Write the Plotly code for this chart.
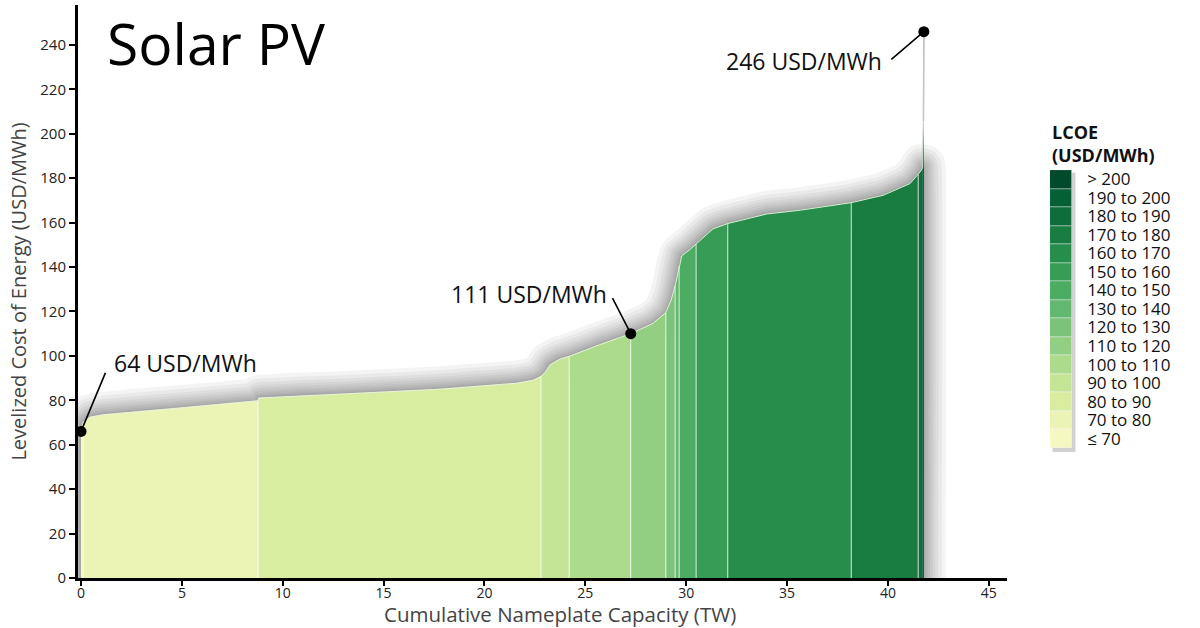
import plotly.graph_objects as go

# ---- data ----
cap_tw = [0, 0.05, 0.12, 0.45, 1.1, 4.4, 8.6, 8.78, 8.8, 12.8, 17.8, 21.6, 22.4, 22.8,
          23.0, 23.25, 23.75, 24.2, 25.7, 27.25, 28.35, 28.99, 29.25, 29.45, 29.6, 29.65,
          29.78, 30.2, 30.49, 31.33, 32.06, 34.0, 35.65, 38.18, 39.76, 41.1, 41.5, 41.65,
          41.72, 41.74, 41.76, 41.78]
lcoe = [66, 68.5, 70.2, 72.4, 73.5, 76.1, 79.4, 79.8, 81, 82.7, 85, 87.7, 89, 90.8,
        92.5, 96, 98.6, 99.8, 105, 110, 114.6, 119.5, 125, 131.5, 138, 140.5,
        145, 148, 150.4, 157.2, 159.6, 163.9, 165.6, 169, 172.3, 177.6, 181.8, 183.5,
        185, 195, 206, 246]

band_labels = ["≤ 70", "70 to 80", "80 to 90", "90 to 100", "100 to 110", "110 to 120",
               "120 to 130", "130 to 140", "140 to 150", "150 to 160", "160 to 170",
               "170 to 180", "180 to 190", "190 to 200", "> 200"]
band_edges = [0, 0.12, 8.78, 22.8, 24.2, 27.25, 28.99, 29.45, 29.65, 30.49, 32.06,
              38.18, 41.5, 41.72, 41.74, 41.78]
band_colors = ["#f6f8c2", "#ebf4b5", "#d9eda1", "#c4e596", "#acdb8b", "#93cf83",
               "#7bc37a", "#63b86f", "#4cac62", "#379d56", "#268d4b", "#197d42",
               "#0e6d3b", "#066035", "#014a2b"]

x_ticks = [0, 5, 10, 15, 20, 25, 30, 35, 40, 45]
y_ticks = [0, 20, 40, 60, 80, 100, 120, 140, 160, 180, 200, 220, 240]

callouts = [  # (x, y, label, text_x, text_y, ax, ay)
    (0, 66, "64 USD/MWh", 1.54, 96.8, 25, -60),
    (27.25, 110, "111 USD/MWh", 18.25, 127.8, -19, -37),
    (41.78, 246, "246 USD/MWh", 31.88, 232.8, -34, 29),
]

FONT = "Open Sans"
fig = go.Figure()

# soft glow / shadow around the supply curve (up to the foot of the spike)
k = cap_tw.index(41.72)
sh_x = [cap_tw[0]] + cap_tw[:k + 1] + [cap_tw[k]]
sh_y = [0] + lcoe[:k + 1] + [0]
for w in [46, 38, 31, 25, 20, 15, 11, 7, 4]:
    fig.add_trace(go.Scatter(x=sh_x, y=sh_y, mode="lines",
                             line=dict(color="rgba(0,0,0,0.045)", width=w, shape="spline",
                                       smoothing=0.3),
                             hoverinfo="skip", showlegend=False))

# banded fills
for i, col in enumerate(band_colors):
    lo, hi = band_edges[i], band_edges[i + 1]
    xs = [x for x in cap_tw if lo <= x <= hi]
    ys = [y for x, y in zip(cap_tw, lcoe) if lo <= x <= hi]
    fig.add_trace(go.Scatter(x=xs, y=ys, mode="lines", fill="tozeroy",
                             fillcolor=col, line=dict(color=col, width=0.5),
                             hoverinfo="skip", showlegend=False))

# white separators between bands
sep_x, sep_y = [], []
for e in band_edges[1:-3]:
    yv = lcoe[cap_tw.index(e)]
    sep_x += [e, e, None]
    sep_y += [0, yv, None]
fig.add_trace(go.Scatter(x=sep_x, y=sep_y, mode="lines",
                         line=dict(color="rgba(255,255,255,0.75)", width=1),
                         hoverinfo="skip", showlegend=False))

# light top edge
fig.add_trace(go.Scatter(x=cap_tw[:-1], y=lcoe[:-1], mode="lines",
                         line=dict(color="rgba(235,245,225,0.9)", width=1),
                         hoverinfo="skip", showlegend=False))
# thin spike to the maximum
fig.add_trace(go.Scatter(x=cap_tw[-2:], y=lcoe[-2:], mode="lines",
                         line=dict(color="#c4c4c4", width=1.5),
                         hoverinfo="skip", showlegend=False))

# callout dots
fig.add_trace(go.Scatter(x=[c[0] for c in callouts], y=[c[1] for c in callouts],
                         mode="markers", marker=dict(color="black", size=11),
                         hoverinfo="skip", showlegend=False, cliponaxis=False))

# legend as a bar on a secondary axis
fig.add_trace(go.Bar(x=[1] * len(band_labels), y=band_labels, orientation="h",
                     width=1, marker=dict(color=band_colors,
                                          line=dict(color="rgba(255,255,255,0.6)", width=0.6)),
                     xaxis="x2", yaxis="y2", hoverinfo="skip", showlegend=False))

annotations = []
for (px, py, lab, tx, ty, ax, ay) in callouts:
    annotations.append(dict(x=px, y=py, xref="x", yref="y", text="", showarrow=True,
                            arrowhead=0, arrowwidth=1.6, arrowcolor="black",
                            ax=ax, ay=ay, standoff=0))
    annotations.append(dict(x=tx, y=ty, xref="x", yref="y", text=lab, showarrow=False,
                            xanchor="left", yanchor="middle",
                            font=dict(family=FONT, size=23, color="#111")))

annotations += [
    dict(x=0.0243, y=0.934, xref="paper", yref="paper", text="Solar PV", showarrow=False,
         xanchor="left", yanchor="middle", font=dict(family=FONT, size=57, color="black")),
    dict(x=0, y=1, xref="x2 domain", yref="y2 domain", text="<b>LCOE<br>(USD/MWh)</b>",
         showarrow=False, xanchor="left", yanchor="bottom", align="left", yshift=1,
         font=dict(family=FONT, size=18, color="#111")),
    dict(x=(560 - 78) / 1112, y=-(614 - 578) / 573, xref="paper", yref="paper",
         text="Cumulative Nameplate Capacity (TW)", showarrow=False,
         xanchor="center", yanchor="middle", font=dict(family=FONT, size=20.5, color="#444")),
]

fig.update_layout(
    width=1200, height=628,
    margin=dict(l=78, r=10, t=5, b=50, autoexpand=False),
    paper_bgcolor="white", plot_bgcolor="white",
    font=dict(family=FONT, color="#111"),
    bargap=0,
    xaxis=dict(domain=[0, 0.8354], range=[-0.15, 45.9], tickvals=x_ticks, automargin=False,
               showgrid=False, zeroline=False, showline=True, linecolor="black",
               linewidth=2.5, ticks="outside", ticklen=5, tickwidth=1.5,
               tickcolor="black", tickfont=dict(size=14, color="#222"),
               ticklabelstandoff=-5),
    yaxis=dict(range=[0, 258], tickvals=y_ticks, showgrid=False, zeroline=False,
               automargin=False,
               showline=True, linecolor="black", linewidth=3, ticks="outside",
               ticklen=6, tickwidth=1.5, tickcolor="black",
               tickfont=dict(size=15, color="#222"),
               title=dict(text="Levelized Cost of Energy (USD/MWh)",
                          font=dict(size=20, color="#444"), standoff=9)),
    xaxis2=dict(domain=[0.874, 0.894], range=[0, 1], visible=False, anchor="y2",
                fixedrange=True, automargin=False),
    yaxis2=dict(domain=[0.2269, 0.712], anchor="x2", side="right", automargin=False,
                categoryorder="array", categoryarray=band_labels,
                tickmode="array", tickvals=band_labels, ticktext=band_labels,
                range=[-0.5, len(band_labels) - 0.5], showgrid=False, zeroline=False,
                showline=False, ticks="", ticklabelstandoff=14,
                tickfont=dict(size=17, color="#111")),
    annotations=annotations,
    shapes=[dict(type="rect", xref="x2 domain", yref="y2 domain", x0=0.12, x1=1.15,
                 y0=-0.014, y1=0.99, fillcolor="rgba(0,0,0,0.18)", line=dict(width=0),
                 layer="below")],
)

fig.write_html("out.html", config={"displayModeBar": False},
               post_script="document.body.style.margin='0px';document.body.style.padding='0px';")
